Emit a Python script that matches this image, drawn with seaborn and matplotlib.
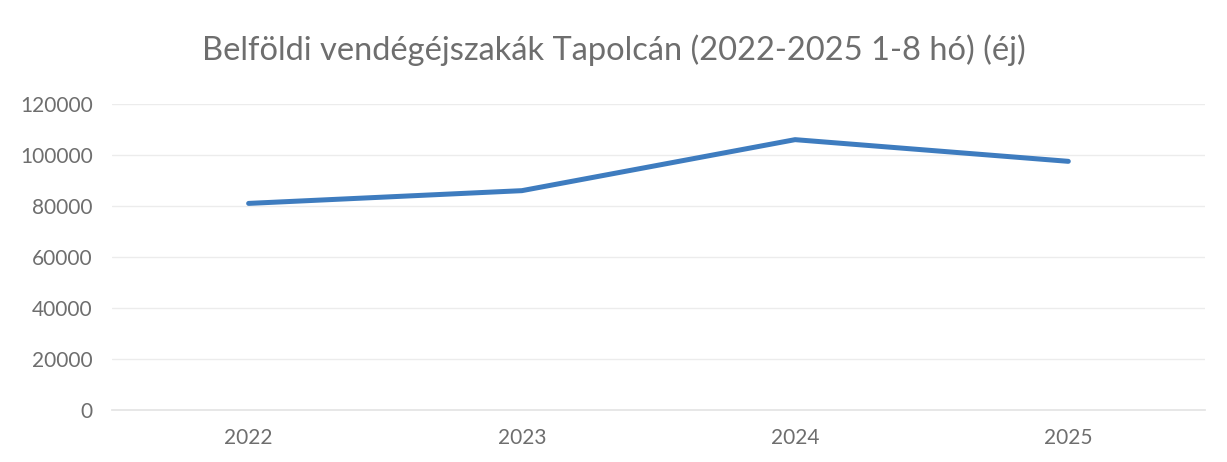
import matplotlib

matplotlib.use("Agg")

import matplotlib.pyplot as plt
import pandas as pd
import seaborn as sns

# adatok
years = ["2022", "2023", "2024", "2025"]
nights = [81000, 86000, 106000, 97500]
y_ticks = [0, 20000, 40000, 60000, 80000, 100000, 120000]
title = "Belföldi vendégéjszakák Tapolcán (2022-2025 1-8 hó) (éj)"

_TEXT = "#6e6e6e"
_LINE = "#3e7cbf"

sns.set_theme(style="white")
plt.rcParams["font.family"] = ["Lato", "DejaVu Sans"]

df = pd.DataFrame({"year": years, "nights": nights})

fig = plt.figure(figsize=(12.27, 4.62), dpi=100)
ax = fig.add_axes([0.0913, 0.1126, 0.8907, 0.6624])

sns.lineplot(data=df, x="year", y="nights", sort=False, color=_LINE,
             linewidth=3.6, solid_capstyle="round", ax=ax)

ax.set_xlim(-0.5, len(years) - 0.5)
ax.set_ylim(0, 120000)
ax.set_yticks(y_ticks)
ax.set_yticklabels([str(v) for v in y_ticks])
ax.yaxis.grid(True, color="#ececec", linewidth=1)
ax.set_axisbelow(True)
for side in ["top", "right", "left", "bottom"]:
    ax.spines[side].set_visible(False)
ax.spines["bottom"].set_visible(True)
ax.spines["bottom"].set_color("#e4e4e4")
ax.tick_params(axis="both", length=0, labelsize=15, labelcolor=_TEXT)
ax.tick_params(axis="y", pad=14)
ax.tick_params(axis="x", pad=13)
ax.set_xlabel("")
ax.set_ylabel("")

fig.text(0.5, 0.892, title, ha="center", va="center", fontsize=23.5, color=_TEXT)

fig.savefig("out.png", dpi=100, facecolor="white")
